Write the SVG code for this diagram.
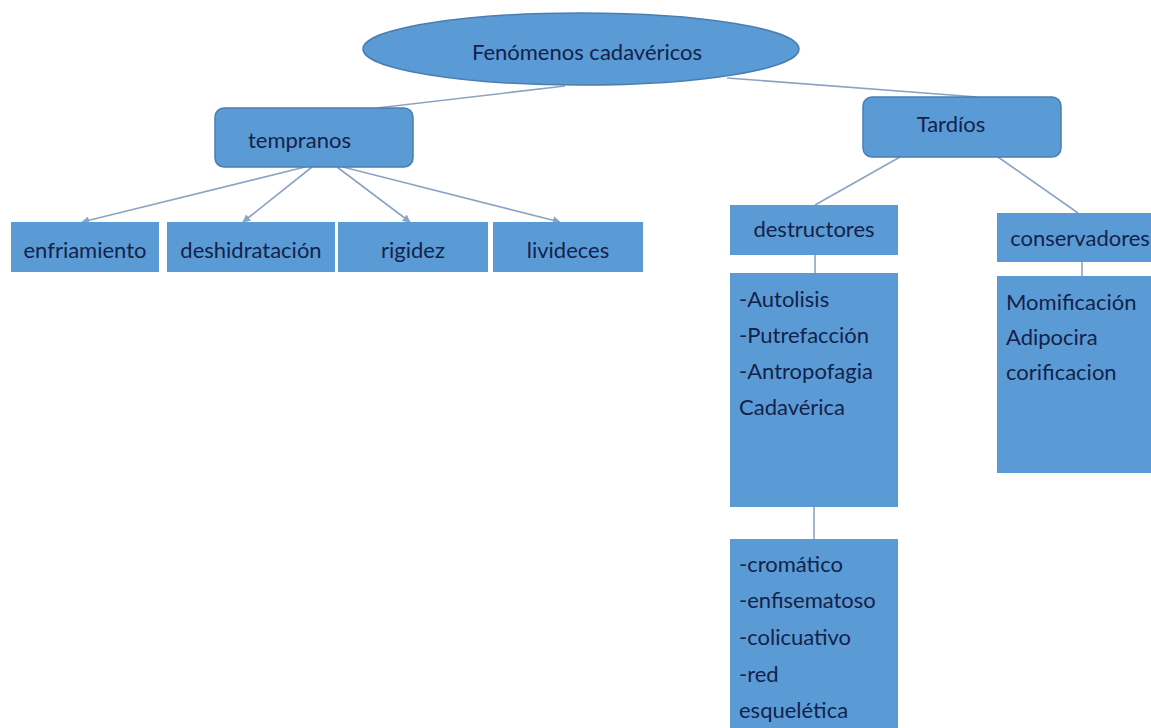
<svg xmlns="http://www.w3.org/2000/svg" width="1151" height="728" viewBox="0 0 1151 728">
<style>
text{font-family:Lato,"Liberation Sans",sans-serif;font-size:22px;fill:#13224a}
.box{fill:#5b9bd5}
.rb{fill:#5b9bd5;stroke:#4a7eb0;stroke-width:1.5}
.ln{stroke:#8ba4c4;stroke-width:1.6;fill:none}
.c{text-anchor:middle}
</style>
<defs>
<marker id="ah" viewBox="0 0 10 10" refX="9" refY="5" markerWidth="5" markerHeight="5" orient="auto" markerUnits="strokeWidth">
<path d="M0,0 L10,5 L0,10 z" fill="#8ba4c4"/>
</marker>
</defs>
<rect width="1151" height="728" fill="#ffffff"/>
<g id="connectors">
<line class="ln" x1="565" y1="86" x2="377" y2="108"/>
<line class="ln" x1="727" y1="78" x2="977" y2="97"/>
<line class="ln" x1="305" y1="167" x2="82" y2="222" marker-end="url(#ah)"/>
<line class="ln" x1="312" y1="167" x2="243" y2="222" marker-end="url(#ah)"/>
<line class="ln" x1="337" y1="167" x2="410" y2="222" marker-end="url(#ah)"/>
<line class="ln" x1="343" y1="167" x2="560" y2="222" marker-end="url(#ah)"/>
<line class="ln" x1="900" y1="157" x2="815" y2="205"/>
<line class="ln" x1="998" y1="157" x2="1078" y2="213"/>
<line class="ln" x1="815" y1="255" x2="815" y2="273"/>
<line class="ln" x1="1082" y1="262" x2="1082" y2="276"/>
<line class="ln" x1="814" y1="507" x2="814" y2="539"/>
</g>
<g id="root">
<ellipse cx="581" cy="49" rx="218" ry="36" class="rb"/>
<text x="587" y="60" class="c">Fenómenos cadavéricos</text>
</g>
<g id="tempranos">
<rect x="215" y="108" width="198" height="59" rx="9" class="rb"/>
<text x="248" y="148">tempranos</text>
</g>
<g id="tardios">
<rect x="863" y="97" width="198" height="60" rx="9" class="rb"/>
<text x="951" y="132" class="c">Tardíos</text>
</g>
<g id="enfriamiento">
<rect x="11" y="222" width="148" height="50" class="box"/>
<text x="85" y="258" class="c">enfriamiento</text>
</g>
<g id="deshidratacion">
<rect x="167" y="222" width="168" height="50" class="box"/>
<text x="251" y="258" class="c">deshidratación</text>
</g>
<g id="rigidez">
<rect x="338" y="222" width="150" height="50" class="box"/>
<text x="413" y="258" class="c">rigidez</text>
</g>
<g id="livideces">
<rect x="493" y="222" width="150" height="50" class="box"/>
<text x="568" y="258" class="c">livideces</text>
</g>
<g id="destructores">
<rect x="730" y="205" width="168" height="50" class="box"/>
<text x="814" y="237" class="c">destructores</text>
</g>
<g id="conservadores">
<rect x="997" y="213" width="154" height="49" class="box"/>
<text x="1080" y="246" class="c">conservadores</text>
</g>
<g id="destructores-lista">
<rect x="730" y="273" width="168" height="234" class="box"/>
<text x="739" y="307">-Autolisis</text>
<text x="739" y="343">-Putrefacción</text>
<text x="739" y="379">-Antropofagia</text>
<text x="739" y="415">Cadavérica</text>
</g>
<g id="conservadores-lista">
<rect x="997" y="276" width="154" height="197" class="box"/>
<text x="1006" y="310">Momificación</text>
<text x="1006" y="345">Adipocira</text>
<text x="1006" y="380">corificacion</text>
</g>
<g id="putrefaccion-fases">
<rect x="730" y="539" width="168" height="189" class="box"/>
<text x="739" y="572">-cromático</text>
<text x="739" y="608">-enfisematoso</text>
<text x="739" y="645">-colicuativo</text>
<text x="739" y="682">-red</text>
<text x="739" y="718">esquelética</text>
</g>
</svg>
